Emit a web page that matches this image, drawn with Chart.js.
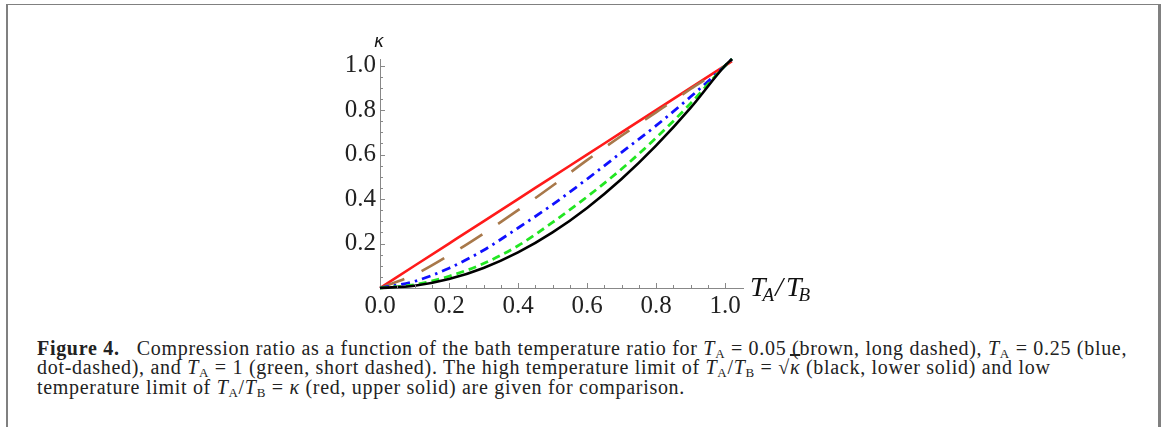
<!DOCTYPE html>
<html>
<head>
<meta charset="utf-8">
<script src="https://cdn.jsdelivr.net/npm/chart.js@4.4.0/dist/chart.umd.min.js"></script>
<style>
    html, body { margin: 0; padding: 0; background: #fff; }
    body { width: 1163px; height: 427px; position: relative; overflow: hidden; }
    #frame {
        position: absolute; left: 6px; top: 4px; width: 1150px; height: 500px;
        border-top: 1px solid #808080; border-left: 2px solid #808080; border-right: 3px solid #808080;
    }
    #wrap { position: absolute; left: 0; top: 0; width: 1163px; height: 330px; }
    #caption {
        position: absolute; left: 37px; top: 339px; width: 1110px;
        font-family: "Liberation Serif", serif; font-size: 20px; line-height: 19.4px; color: #222;
        letter-spacing: 0.7px; white-space: nowrap;
    }
    #caption sub { font-size: 13px; vertical-align: -3px; line-height: 0; }
    .ov { text-decoration: overline; }
</style>
</head>
<body>
<div id="frame"></div>
<div id="wrap"><canvas id="Wykres" width="1163" height="330"></canvas></div>
<div id="caption">
<b>Figure 4.</b>&nbsp;&nbsp; Compression ratio as a function of the bath temperature ratio for <i>T</i><sub>A</sub> = 0.05 (brown, long dashed), <i>T</i><sub>A</sub> = 0.25 (blue,<br>
dot-dashed), and <i>T</i><sub>A</sub> = 1 (green, short dashed). The high temperature limit of <i>T</i><sub>A</sub>/<i>T</i><sub>B</sub> = √<span class="ov"><i>κ</i></span> (black, lower solid) and low<br>
temperature limit of <i>T</i><sub>A</sub>/<i>T</i><sub>B</sub> = <i>κ</i> (red, upper solid) are given for comparison.
</div>
<script>
// temperatura ratio T_A/T_B
const ratio = [0, 0.1, 0.2, 0.3, 0.4, 0.5, 0.6, 0.7, 0.8, 0.9, 1.0, 1.02];
// kompresja kappa
const kappaBrown = [0, 0.06, 0.147, 0.245, 0.35, 0.46, 0.575, 0.685, 0.79, 0.895, 1.0, 1.03];
const kappaBlue  = [0, 0.03, 0.089, 0.17, 0.27, 0.375, 0.49, 0.61, 0.73, 0.86, 1.0, 1.03];
const kappaGreen = [0, 0.015, 0.053, 0.11, 0.19, 0.295, 0.41, 0.535, 0.675, 0.83, 1.0, 1.03];
const kappaBlack = [0, 0.01, 0.04, 0.09, 0.16, 0.25, 0.36, 0.49, 0.64, 0.81, 1.0, 1.03];
const kappaRed   = [0, 0.1, 0.2, 0.3, 0.4, 0.5, 0.6, 0.7, 0.8, 0.9, 1.0, 1.02];
const tickValues = [0, 0.2, 0.4, 0.6, 0.8, 1.0];

function pts(ys) {
    return ratio.map((x, i) => ({ x: x, y: ys[i] }));
}

// osie Mathematica: male kreski do srodka + podpisy osi
const axesPlugin = {
    id: 'axesPlugin',
    afterDatasetsDraw(chart) {
        const c = chart.ctx, xs = chart.scales.x, ys = chart.scales.y;
        const x0 = xs.getPixelForValue(0), y0 = ys.getPixelForValue(0);
        c.save();
        c.strokeStyle = '#888';
        c.lineWidth = 1;
        for (let v = 0.05; v <= 1.0001; v += 0.05) {
            const major = Math.abs(v * 5 - Math.round(v * 5)) < 1e-6;
            const len = major ? 5 : 3;
            const px = Math.round(xs.getPixelForValue(v)) + 0.5;
            c.beginPath(); c.moveTo(px, y0); c.lineTo(px, y0 - len); c.stroke();
            const py = Math.round(ys.getPixelForValue(v)) + 0.5;
            c.beginPath(); c.moveTo(x0, py); c.lineTo(x0 + len, py); c.stroke();
        }
        c.fillStyle = '#111';
        c.textBaseline = 'alphabetic';
        c.font = 'italic 17px "DejaVu Sans"';
        c.textAlign = 'center';
        c.fillText('κ', x0 - 1, ys.top - 12);
        // T_A/T_B
        const lx = xs.right + 7, ly = y0 + 8;
        c.textAlign = 'left';
        c.font = 'italic 28px "Liberation Serif"';
        c.fillText('T', lx, ly);
        let w = c.measureText('T').width;
        c.font = 'italic 19px "Liberation Serif"';
        c.fillText('A', lx + w - 3, ly + 5);
        w += c.measureText('A').width - 3;
        c.font = 'italic 28px "Liberation Serif"';
        c.fillText('/', lx + w + 1, ly);
        w += c.measureText('/').width + 1;
        c.fillText('T', lx + w + 3, ly);
        w += c.measureText('T').width + 3;
        c.font = 'italic 19px "Liberation Serif"';
        c.fillText('B', lx + w - 3, ly + 5);
        c.restore();
    }
};

document.addEventListener("DOMContentLoaded", function() {
    const ctx = document.getElementById('Wykres').getContext('2d');
    new Chart(ctx, {
        type: 'line',
        data: {
            datasets: [
                { label: 'high T limit', data: pts(kappaBlack), borderColor: '#000000', borderWidth: 2.6 },
                { label: 'T_A = 1', data: pts(kappaGreen), borderColor: '#22e622', borderWidth: 2.8, borderDash: [8, 5] },
                { label: 'T_A = 0.25', data: pts(kappaBlue), borderColor: '#1010ff', borderWidth: 2.8, borderDash: [9, 5, 2.5, 5] },
                { label: 'T_A = 0.05', data: pts(kappaBrown), borderColor: '#a8784a', borderWidth: 2.6, borderDash: [26, 19] },
                { label: 'low T limit', data: pts(kappaRed), borderColor: '#ff1a1a', borderWidth: 2.6 }
            ]
        },
        options: {
            responsive: false,
            animation: false,
            clip: false,
            layout: { padding: { left: 300, right: 420, top: 59, bottom: 0 } },
            elements: {
                point: { radius: 0 },
                line: { cubicInterpolationMode: 'monotone', borderCapStyle: 'butt' }
            },
            scales: {
                x: {
                    type: 'linear', min: 0, max: 1.052,
                    afterFit(s) { s.height = 42; },
                    afterBuildTicks(s) { s.ticks = tickValues.map(v => ({ value: v })); },
                    grid: { display: false, drawTicks: false },
                    border: { color: '#888', width: 1 },
                    ticks: {
                        color: '#222', padding: 3,
                        font: { family: 'Liberation Serif', size: 25 },
                        callback: v => v.toFixed(1)
                    }
                },
                y: {
                    type: 'linear', min: 0, max: 1.03,
                    afterFit(s) { s.width = 80; },
                    afterBuildTicks(s) { s.ticks = tickValues.map(v => ({ value: v })); },
                    grid: { display: false, drawTicks: false },
                    border: { color: '#888', width: 1 },
                    ticks: {
                        color: '#222', padding: 4,
                        font: { family: 'Liberation Serif', size: 25 },
                        callback: v => v === 0 ? '' : v.toFixed(1)
                    }
                }
            },
            plugins: {
                legend: { display: false },
                tooltip: { enabled: false }
            }
        },
        plugins: [axesPlugin]
    });
});
</script>
</body>
</html>
